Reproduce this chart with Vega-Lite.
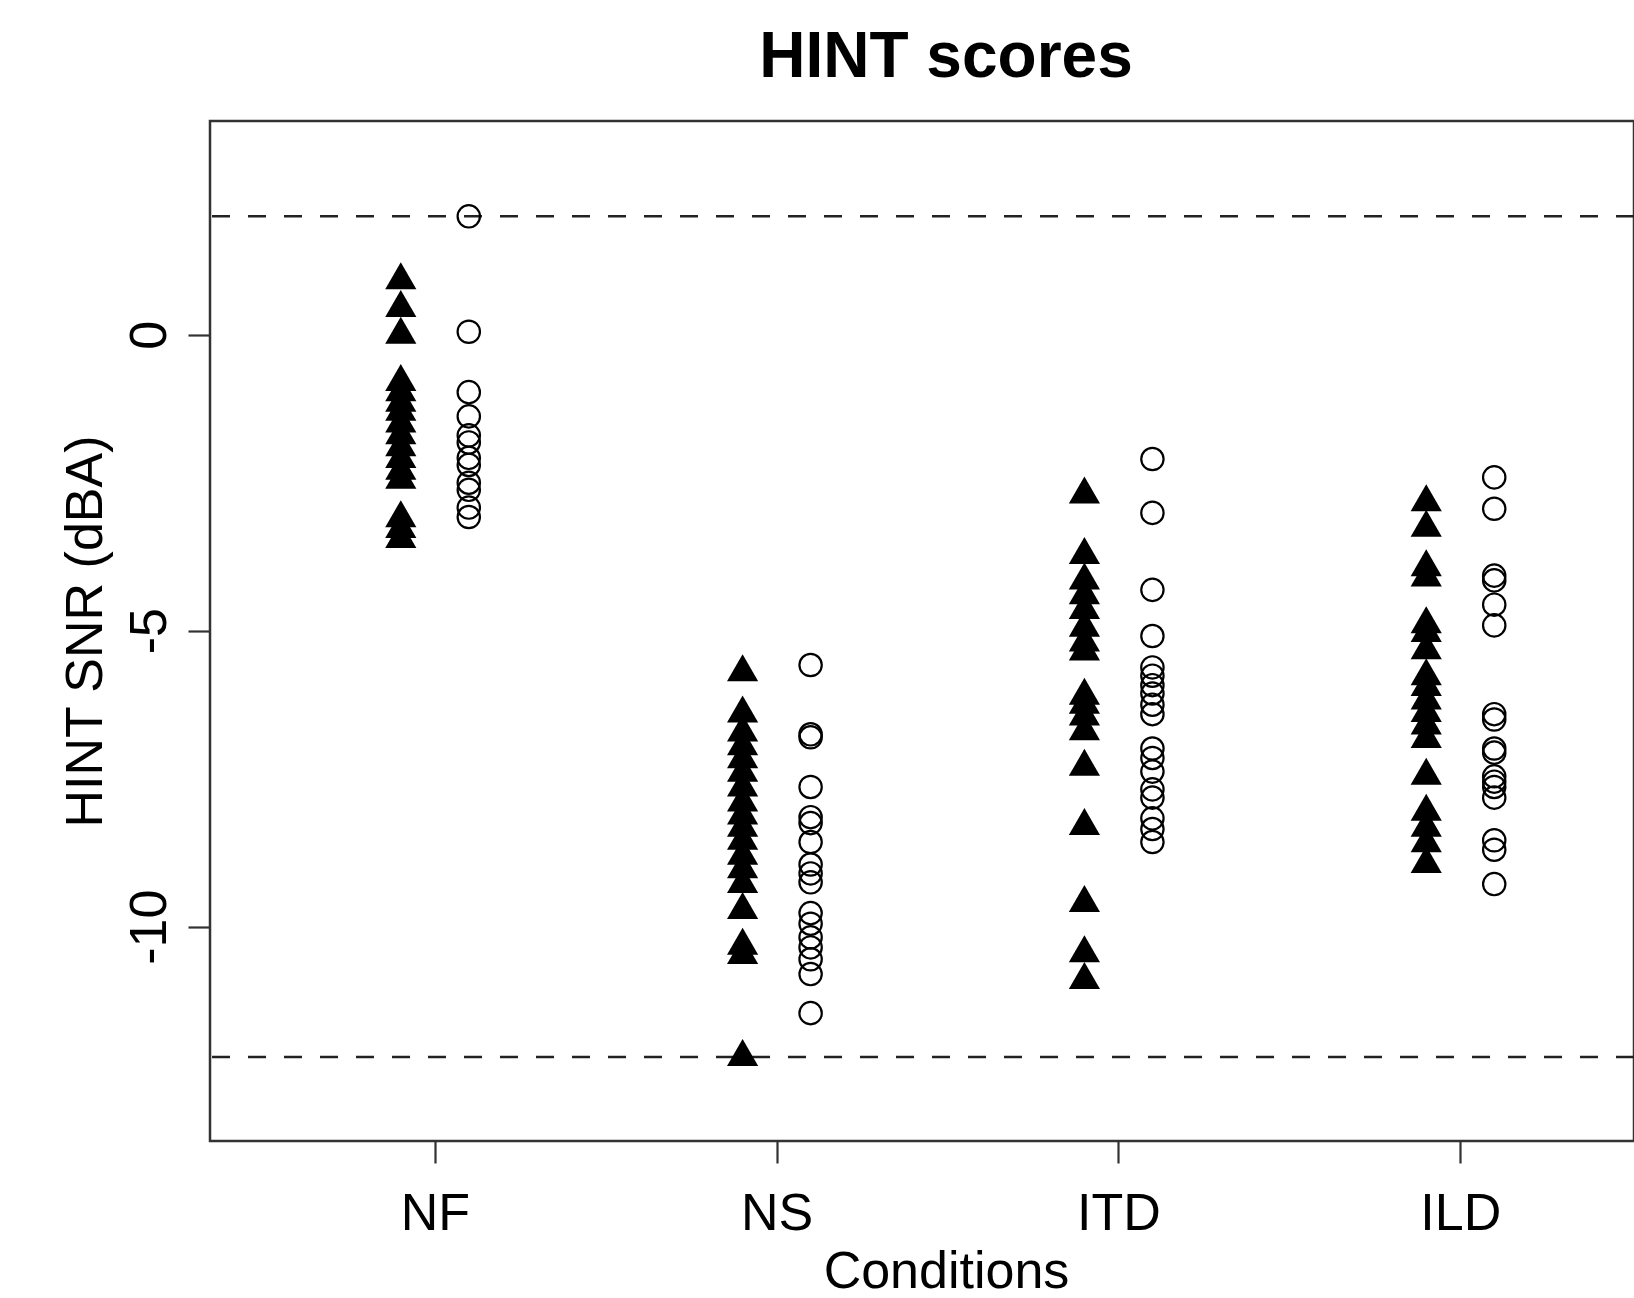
{
  "$schema": "https://vega.github.io/schema/vega-lite/v6.json",
  "width": 1424,
  "height": 1020,
  "autosize": {"type": "none"},
  "padding": {"left": 210, "top": 121, "right": 0, "bottom": 157},
  "background": "white",
  "title": {"text": "HINT scores", "anchor": "middle", "frame": "group", "fontSize": 64, "font": "Liberation Sans", "fontWeight": "bold", "color": "black", "baseline": "alphabetic", "offset": -20, "dx": 24},
  "config": {"view": {"stroke": "#333333", "strokeWidth": 2.5}, "font": "Liberation Sans"},
  "datasets": {
    "refLines": [
      {"line": "max", "snr": 2.0},
      {"line": "min", "snr": -12.2}
    ],
    "triangles": [
      {"condition": "NF", "snr": 0.92}, {"condition": "NF", "snr": 0.45}, {"condition": "NF", "snr": 0.0}, {"condition": "NF", "snr": -0.8},
      {"condition": "NF", "snr": -0.97}, {"condition": "NF", "snr": -1.15}, {"condition": "NF", "snr": -1.3}, {"condition": "NF", "snr": -1.5},
      {"condition": "NF", "snr": -1.7}, {"condition": "NF", "snr": -1.9}, {"condition": "NF", "snr": -2.1}, {"condition": "NF", "snr": -2.3},
      {"condition": "NF", "snr": -2.45}, {"condition": "NF", "snr": -3.1}, {"condition": "NF", "snr": -3.28}, {"condition": "NF", "snr": -3.45},
      {"condition": "NS", "snr": -5.7}, {"condition": "NS", "snr": -6.4}, {"condition": "NS", "snr": -6.72}, {"condition": "NS", "snr": -6.95},
      {"condition": "NS", "snr": -7.17}, {"condition": "NS", "snr": -7.4}, {"condition": "NS", "snr": -7.65}, {"condition": "NS", "snr": -7.9},
      {"condition": "NS", "snr": -8.12}, {"condition": "NS", "snr": -8.33}, {"condition": "NS", "snr": -8.55}, {"condition": "NS", "snr": -8.8},
      {"condition": "NS", "snr": -9.03}, {"condition": "NS", "snr": -9.28}, {"condition": "NS", "snr": -9.72}, {"condition": "NS", "snr": -10.32},
      {"condition": "NS", "snr": -10.48}, {"condition": "NS", "snr": -12.2},
      {"condition": "ITD", "snr": -2.7}, {"condition": "ITD", "snr": -3.72}, {"condition": "ITD", "snr": -4.15}, {"condition": "ITD", "snr": -4.4},
      {"condition": "ITD", "snr": -4.65}, {"condition": "ITD", "snr": -4.95}, {"condition": "ITD", "snr": -5.2}, {"condition": "ITD", "snr": -5.35},
      {"condition": "ITD", "snr": -6.1}, {"condition": "ITD", "snr": -6.25}, {"condition": "ITD", "snr": -6.45}, {"condition": "ITD", "snr": -6.7},
      {"condition": "ITD", "snr": -7.3}, {"condition": "ITD", "snr": -8.3}, {"condition": "ITD", "snr": -9.6}, {"condition": "ITD", "snr": -10.45},
      {"condition": "ITD", "snr": -10.9},
      {"condition": "ILD", "snr": -2.83}, {"condition": "ILD", "snr": -3.26}, {"condition": "ILD", "snr": -3.93}, {"condition": "ILD", "snr": -4.1},
      {"condition": "ILD", "snr": -4.89}, {"condition": "ILD", "snr": -5.04}, {"condition": "ILD", "snr": -5.33}, {"condition": "ILD", "snr": -5.77},
      {"condition": "ILD", "snr": -5.95}, {"condition": "ILD", "snr": -6.18}, {"condition": "ILD", "snr": -6.39}, {"condition": "ILD", "snr": -6.6},
      {"condition": "ILD", "snr": -6.83}, {"condition": "ILD", "snr": -7.45}, {"condition": "ILD", "snr": -8.06}, {"condition": "ILD", "snr": -8.33},
      {"condition": "ILD", "snr": -8.59}, {"condition": "ILD", "snr": -8.94}
    ],
    "circles": [
      {"condition": "NF", "snr": 2.0}, {"condition": "NF", "snr": 0.05}, {"condition": "NF", "snr": -0.97}, {"condition": "NF", "snr": -1.38},
      {"condition": "NF", "snr": -1.7}, {"condition": "NF", "snr": -1.82}, {"condition": "NF", "snr": -2.08}, {"condition": "NF", "snr": -2.2},
      {"condition": "NF", "snr": -2.5}, {"condition": "NF", "snr": -2.62}, {"condition": "NF", "snr": -2.92}, {"condition": "NF", "snr": -3.08},
      {"condition": "NS", "snr": -5.58}, {"condition": "NS", "snr": -6.75}, {"condition": "NS", "snr": -6.8}, {"condition": "NS", "snr": -7.64},
      {"condition": "NS", "snr": -8.15}, {"condition": "NS", "snr": -8.25}, {"condition": "NS", "snr": -8.57}, {"condition": "NS", "snr": -8.95},
      {"condition": "NS", "snr": -9.1}, {"condition": "NS", "snr": -9.25}, {"condition": "NS", "snr": -9.77}, {"condition": "NS", "snr": -9.95},
      {"condition": "NS", "snr": -10.18}, {"condition": "NS", "snr": -10.35}, {"condition": "NS", "snr": -10.55}, {"condition": "NS", "snr": -10.8},
      {"condition": "NS", "snr": -11.46},
      {"condition": "ITD", "snr": -2.1}, {"condition": "ITD", "snr": -3.01}, {"condition": "ITD", "snr": -4.31}, {"condition": "ITD", "snr": -5.09},
      {"condition": "ITD", "snr": -5.62}, {"condition": "ITD", "snr": -5.76}, {"condition": "ITD", "snr": -5.92}, {"condition": "ITD", "snr": -6.06},
      {"condition": "ITD", "snr": -6.25}, {"condition": "ITD", "snr": -6.41}, {"condition": "ITD", "snr": -6.99}, {"condition": "ITD", "snr": -7.15},
      {"condition": "ITD", "snr": -7.38}, {"condition": "ITD", "snr": -7.68}, {"condition": "ITD", "snr": -7.82}, {"condition": "ITD", "snr": -8.17},
      {"condition": "ITD", "snr": -8.35}, {"condition": "ITD", "snr": -8.57},
      {"condition": "ILD", "snr": -2.41}, {"condition": "ILD", "snr": -2.94}, {"condition": "ILD", "snr": -4.07}, {"condition": "ILD", "snr": -4.15},
      {"condition": "ILD", "snr": -4.56}, {"condition": "ILD", "snr": -4.91}, {"condition": "ILD", "snr": -6.41}, {"condition": "ILD", "snr": -6.5},
      {"condition": "ILD", "snr": -6.99}, {"condition": "ILD", "snr": -7.06}, {"condition": "ILD", "snr": -7.46}, {"condition": "ILD", "snr": -7.55},
      {"condition": "ILD", "snr": -7.64}, {"condition": "ILD", "snr": -7.82}, {"condition": "ILD", "snr": -8.54}, {"condition": "ILD", "snr": -8.7},
      {"condition": "ILD", "snr": -9.28}
    ]
  },
  "layer": [
    {
      "data": {"name": "refLines"},
      "mark": {"type": "rule", "strokeDash": [18, 18], "color": "#222222", "strokeWidth": 2.5},
      "encoding": {
        "y": {
          "field": "snr", "type": "quantitative",
          "scale": {"domain": [-13.62, 3.61], "nice": false, "zero": false},
          "axis": {
            "title": "HINT SNR (dBA)", "values": [-10, -5, 0], "domain": false, "grid": false,
            "tickSize": 22, "tickColor": "#333333", "tickWidth": 2.2,
            "labelExpr": "toString(datum.value)",
            "labelAngle": 270, "labelAlign": "center", "labelBaseline": "alphabetic", "labelPadding": 23,
            "labelFontSize": 52, "labelFont": "Liberation Sans", "labelColor": "black", "labelFlush": false, "labelOverlap": false,
            "titleFontSize": 52, "titleFont": "Liberation Sans", "titleFontWeight": "normal", "titleColor": "black",
            "titleAngle": 270, "titleX": -109, "titleY": 510, "titleAlign": "center", "titleBaseline": "alphabetic"
          }
        }
      }
    },
    {
      "data": {"name": "triangles"},
      "mark": {"type": "point", "shape": "M0,-1L0.866,0.5L-0.866,0.5Z", "filled": true, "color": "black", "opacity": 1, "strokeWidth": 0, "size": 1296, "xOffset": -34},
      "encoding": {
        "x": {
          "field": "condition", "type": "nominal", "sort": ["NF", "NS", "ITD", "ILD"],
          "scale": {"type": "point", "domain": ["NF", "NS", "ITD", "ILD"], "padding": 0.583, "align": 0.564},
          "axis": {
            "title": "Conditions", "domain": false, "grid": false,
            "tickSize": 22, "tickColor": "#333333", "tickWidth": 2.2,
            "labelAngle": 0, "labelBaseline": "alphabetic", "labelPadding": 66.7,
            "labelFontSize": 52, "labelFont": "Liberation Sans", "labelColor": "black", "labelFlush": false, "labelOverlap": false,
            "titleFontSize": 52, "titleFont": "Liberation Sans", "titleFontWeight": "normal", "titleColor": "black",
            "titleX": 736, "titleY": 146, "titleAlign": "center", "titleBaseline": "alphabetic"
          }
        },
        "y": {"field": "snr", "type": "quantitative"}
      }
    },
    {
      "data": {"name": "circles"},
      "mark": {"type": "point", "shape": "circle", "filled": false, "color": "black", "opacity": 1, "strokeWidth": 2.2, "size": 500, "xOffset": 34},
      "encoding": {
        "x": {"field": "condition", "type": "nominal", "sort": ["NF", "NS", "ITD", "ILD"]},
        "y": {"field": "snr", "type": "quantitative"}
      }
    }
  ]
}
